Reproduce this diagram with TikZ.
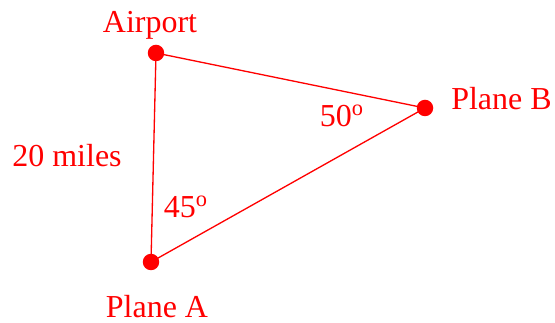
\documentclass[tikz,border=0pt]{standalone}
\usepackage{fontspec}
\setmainfont{Liberation Serif}
\usetikzlibrary{positioning}
\definecolor{planered}{RGB}{255,0,0}

\begin{document}
\begin{tikzpicture}[
        x=0.02cm, y=-0.02cm,
        dot/.style={circle, fill=planered, inner sep=0pt, minimum size=0.33cm},
        lbl/.style={text=planered, font=\fontsize{18.2}{22}\selectfont, inner sep=0pt, anchor=base},
        edge/.style={draw=planered, line width=0.75pt}
    ]
    \useasboundingbox (0,0) rectangle (555,323);
    \node[dot] (airport) at (156,53) {};
    \node[dot] (planeB) at (425,108) {};
    \node[dot] (planeA) at (151,262) {};

    \node[lbl] (airportlbl) at (150,33) {Airport};
    \node[lbl, anchor=base east] (planeBlbl) at (552,110) {Plane B};
    \node[lbl] (planeAlbl) at (157,318) {Plane A};
    \node[lbl] (dist) at (67,167) {20 miles};
    \node[lbl] (angB) at (342,127) {50\textsuperscript{o}};
    \node[lbl] (angA) at (186,218) {45\textsuperscript{o}};

    \draw[edge] (airport.center) -- (planeB.center) -- (planeA.center) -- cycle;
\end{tikzpicture}
\end{document}
